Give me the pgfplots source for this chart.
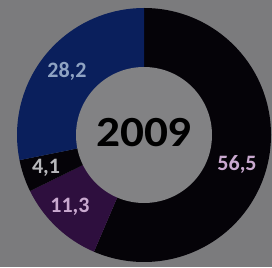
\documentclass[border=0pt]{standalone}
\usepackage{pgfplots}
\usepackage{pgfplotstable}
\pgfplotsset{compat=1.18}
\usepackage{fontspec}
\setmainfont{Carlito}
\definecolor{bg}{HTML}{7B7B7D}
\definecolor{inner}{HTML}{828284}
\definecolor{segblack}{HTML}{050308}
\definecolor{segpurple}{HTML}{2E0F3E}
\definecolor{segblue}{HTML}{0A1F5C}
\definecolor{lblblue}{HTML}{8FA3C3}
\definecolor{lblgray}{HTML}{B8B8BC}
\definecolor{lblpink}{HTML}{C9A9CF}
\pgfplotstableread{
value color
56.5 segblack
11.3 segpurple
4.1 segblack
28.2 segblue
}\slices
\begin{document}
\begin{tikzpicture}
\begin{axis}[
  x=1pt, y=1pt,
  xmin=0, xmax=272, ymin=0, ymax=267,
  axis lines=none,
  clip=false,
]
\fill[bg] (axis cs:0,0) rectangle (axis cs:272,267);
\def\cx{144}\def\cy{132}\def\ro{127}\def\ri{68}
\xdef\startang{90}
\foreach \i in {0,1,2,3}{
  \pgfplotstablegetelem{\i}{value}\of{\slices}\let\v\pgfplotsretval
  \pgfplotstablegetelem{\i}{color}\of{\slices}\let\c\pgfplotsretval
  \pgfmathsetmacro{\sweep}{3.6*\v/1.001}
  \pgfmathsetmacro{\endang}{\startang-\sweep}
  \edef\temp{\noexpand\fill[\c] (axis cs:\cx,\cy) -- ++(\startang:\ro pt) arc[start angle=\startang, end angle=\endang, radius=\ro pt] -- cycle;}
  \temp
  \xdef\startang{\endang}
}
\fill[inner] (axis cs:\cx,\cy) circle[radius=\ri pt];
\node[font=\bfseries\fontsize{43}{43}\selectfont, text=black, xscale=1.1] at (axis cs:144,134) {2009};
\node[font=\bfseries\fontsize{22}{22}\selectfont, text=lblblue] at (axis cs:67,196) {28,2};
\node[font=\bfseries\fontsize{22}{22}\selectfont, text=lblgray] at (axis cs:46,99) {4,1};
\node[font=\bfseries\fontsize{22}{22}\selectfont, text=lblpink] at (axis cs:70,60) {11,3};
\node[font=\bfseries\fontsize{22}{22}\selectfont, text=lblpink] at (axis cs:237,103) {56,5};
\end{axis}
\end{tikzpicture}
\end{document}
